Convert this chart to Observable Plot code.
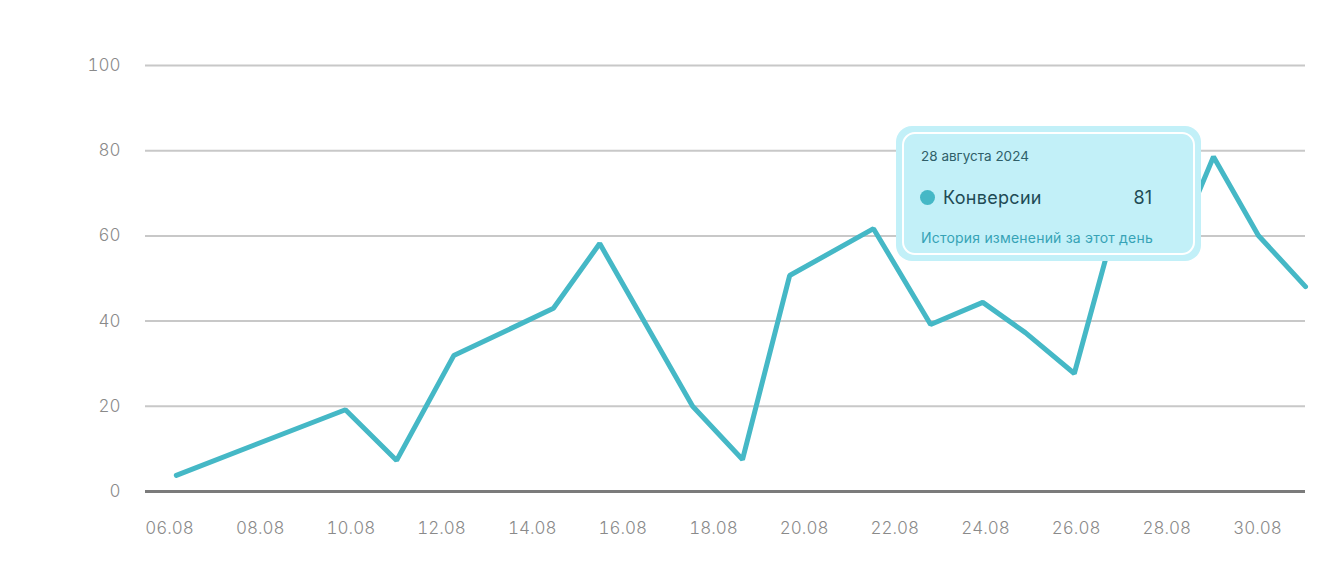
<!DOCTYPE html>
<html>
<head>
<meta charset="utf-8">
<script src="https://cdn.jsdelivr.net/npm/d3@7"></script>
<script src="https://cdn.jsdelivr.net/npm/@observablehq/plot@0.6"></script>
<style>
  html, body { margin: 0; padding: 0; background: #fff; }
  #wrap { position: relative; width: 1340px; height: 573px; font-family: Inter, "Open Sans", sans-serif; }
  #tip { position: absolute; box-sizing: border-box; background: #c2f0f8; border-radius: 16px; padding: 6px; }
  #tip .inner { position: relative; box-sizing: border-box; width: 100%; height: 100%; border: 2px solid #ffffff; border-radius: 13px; background: #c2f0f8; }
  #tip .date { position: absolute; left: 17px; top: 14px; font-size: 13.5px; color: #2f5f69; }
  #tip .row { position: absolute; left: 16px; right: 41px; top: 53px; display: flex; align-items: center; font-size: 18px; color: #1e4b55; }
  #tip .dot { width: 15px; height: 15px; border-radius: 50%; background: #45b8c6; margin-right: 8px; }
  #tip .name { flex: 1; letter-spacing: 0.3px; }
  #tip .foot { position: absolute; left: 17px; top: 95px; font-size: 14px; color: #36a3b6; letter-spacing: 0.2px; }
</style>
</head>
<body>
<div id="wrap"></div>
<script>
// Day of month (August 2024) of each reading, and its value
const dayOfMonth = [6.15, 9.88, 11.01, 12.27, 14.47, 15.49, 17.54, 18.64, 19.68, 21.53, 22.79, 23.94, 24.88, 25.96, 27.33, 28.30, 29.03, 30.02, 31.06];
const conversions = [3.8, 19.2, 7.3, 31.9, 43.0, 58.2, 20.0, 7.5, 50.7, 61.7, 39.2, 44.4, 37.3, 27.7, 81, 60, 78.6, 60.1, 48.1];
const xTickDays = [6, 8, 10, 12, 14, 16, 18, 20, 22, 24, 26, 28, 30];
const xTickLabels = ["06.08", "08.08", "10.08", "12.08", "14.08", "16.08", "18.08", "20.08", "22.08", "24.08", "26.08", "28.08", "30.08"];
const yTicks = [0, 20, 40, 60, 80, 100];
const tooltipDate = "28 августа 2024";
const tooltipSeries = "Конверсии";
const tooltipValue = 81;
const tooltipFooter = "История изменений за этот день";

const data = dayOfMonth.map((d, i) => ({day: d, value: conversions[i]}));

const plot = Plot.plot({
  width: 1340,
  height: 573,
  marginLeft: 145,
  marginRight: 35,
  marginTop: 65,
  marginBottom: 82,
  style: {fontFamily: "Inter, 'Open Sans', sans-serif", fontSize: "17px", fontWeight: 300, color: "#8a8a8a", background: "transparent"},
  x: {domain: [5.47, 31.06]},
  y: {domain: [0, 100]},
  marks: [
    Plot.gridY(yTicks.filter(t => t > 0), {stroke: "#c8c8c8", strokeOpacity: 1, strokeWidth: 2}),
    Plot.ruleY([0], {stroke: "#7b7b7b", strokeWidth: 3}),
    Plot.axisY(yTicks, {tickSize: 0, tickPadding: 25, label: null, fill: "#8a8a8a"}),
    Plot.axisX(xTickDays, {tickSize: 0, tickPadding: 30, label: null, fill: "#8a8a8a",
      tickFormat: d => xTickLabels[xTickDays.indexOf(d)]}),
    Plot.line(data, {x: "day", y: "value", stroke: "#45b8c6", strokeWidth: 5, strokeLinejoin: "miter", strokeLinecap: "round"})
  ]
});

const wrap = document.getElementById("wrap");
wrap.appendChild(plot);

const tip = document.createElement("div");
tip.id = "tip";
tip.style.left = "896px";
tip.style.top = "126px";
tip.style.width = "305px";
tip.style.height = "135px";
tip.innerHTML = `<div class="inner">
  <div class="date">${tooltipDate}</div>
  <div class="row"><div class="dot"></div><div class="name">${tooltipSeries}</div><div class="val">${tooltipValue}</div></div>
  <div class="foot">${tooltipFooter}</div>
</div>`;
wrap.appendChild(tip);
</script>
</body>
</html>
